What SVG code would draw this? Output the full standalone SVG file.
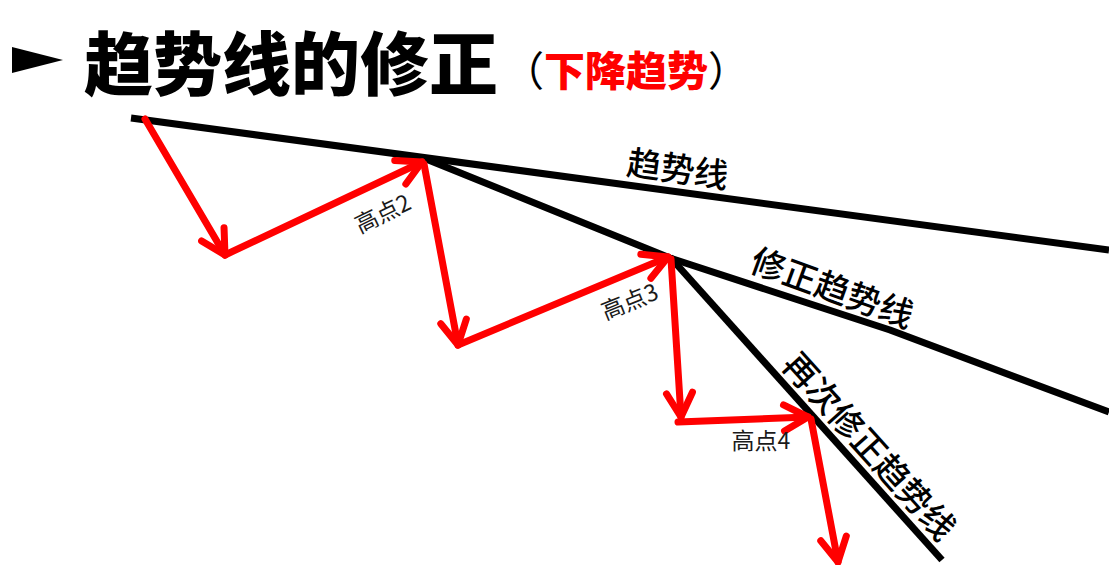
<svg xmlns="http://www.w3.org/2000/svg" width="1109" height="565" viewBox="0 0 1109 565">
  <style>
    .trend { fill: none; stroke: #000; stroke-width: 7; stroke-linecap: butt; stroke-linejoin: round; }
    .move { fill: none; stroke: #FF0000; stroke-width: 7; stroke-linecap: round; marker-end: url(#head); }
    .cjk { font-family: "Noto Sans CJK SC", "Noto Sans", sans-serif; }
    .title { font-size: 69px; font-weight: 900; fill: #000; }
    .sub { font-size: 41px; font-weight: 900; }
    .lineLabel { font-size: 34px; font-weight: 500; fill: #000; }
    .peak { font-size: 23px; fill: #1a1a1a; }
  </style>
  <defs>
    <marker id="head" markerUnits="userSpaceOnUse" orient="auto" refX="0" refY="0" markerWidth="1" markerHeight="1" overflow="visible">
      <path d="M-24,-13 L0,0 L-24,13" fill="none" stroke="#FF0000" stroke-width="7" stroke-linecap="round" stroke-linejoin="round"/>
    </marker>
  </defs>

  <rect width="1109" height="565" fill="#fff"/>

  <!-- heading -->
  <g id="heading">
    <polygon points="12,47 63,60 12,73" fill="#000"/>
    <text class="cjk title" x="84" y="90">趋势线的修正</text>
    <text class="cjk sub" x="503" y="86"><tspan fill="#000" font-weight="400">（</tspan><tspan fill="#FF0000">下降趋势</tspan><tspan fill="#000" font-weight="400">）</tspan></text>
  </g>

  <!-- trend lines -->
  <g id="connectors">
    <line class="trend" x1="131" y1="118" x2="1109" y2="250"/>
    <polyline class="trend" points="426,159 670,258 890,330 1109,412"/>
    <line class="trend" x1="670" y1="257" x2="942" y2="560"/>

    <!-- price swings -->
    <line class="move" x1="145" y1="119" x2="225" y2="255"/>
    <line class="move" x1="225" y1="255" x2="422" y2="162"/>
    <line class="move" x1="424" y1="164" x2="458" y2="345"/>
    <line class="move" x1="458" y1="345" x2="668" y2="257"/>
    <line class="move" x1="671" y1="259" x2="681" y2="417"/>
    <line class="move" x1="678" y1="422" x2="808" y2="417"/>
    <line class="move" x1="811" y1="419" x2="838" y2="562"/>
  </g>

  <!-- line labels -->
  <g id="label-trend">
    <text class="cjk lineLabel" text-anchor="middle" dominant-baseline="central" transform="translate(678,167) rotate(8)">趋势线</text>
  </g>
  <g id="label-revised">
    <text class="cjk lineLabel" text-anchor="middle" dominant-baseline="central" transform="translate(833,286) rotate(20)">修正趋势线</text>
  </g>
  <g id="label-revised-again">
    <text class="cjk lineLabel" text-anchor="middle" dominant-baseline="central" transform="translate(871,445) rotate(48)">再次修正趋势线</text>
  </g>

  <!-- swing high labels -->
  <g id="peak-2">
    <text class="cjk peak" text-anchor="middle" dominant-baseline="central" transform="translate(382,212) rotate(-26)">高点2</text>
  </g>
  <g id="peak-3">
    <text class="cjk peak" text-anchor="middle" dominant-baseline="central" transform="translate(629,300) rotate(-22)">高点3</text>
  </g>
  <g id="peak-4">
    <text class="cjk peak" text-anchor="middle" dominant-baseline="central" x="761" y="439">高点4</text>
  </g>
</svg>
